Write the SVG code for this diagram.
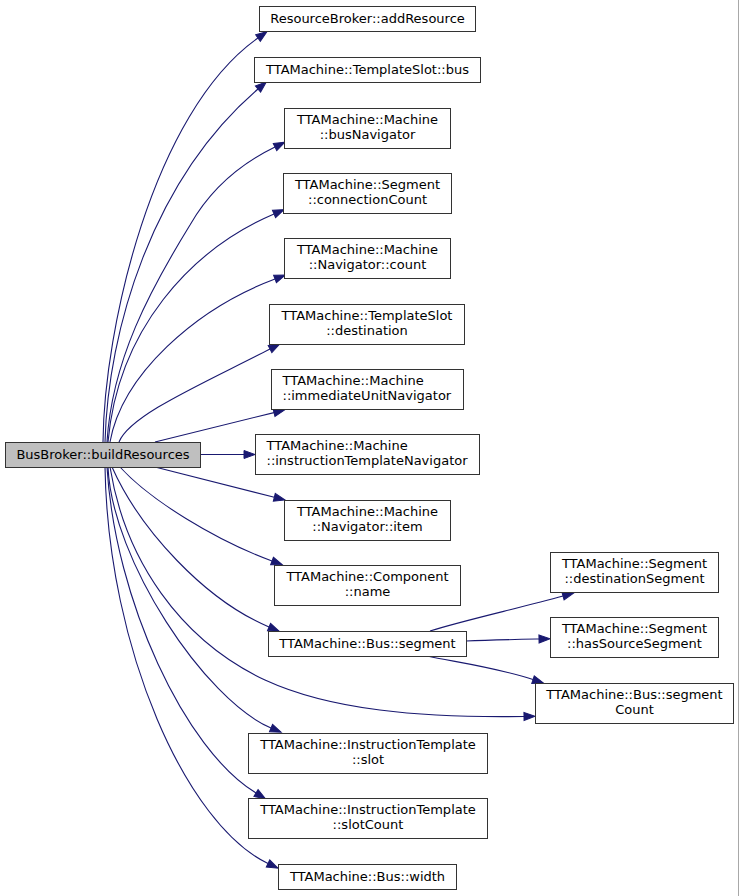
<svg xmlns="http://www.w3.org/2000/svg" width="739" height="896" viewBox="0 0 739 896">
<style>
.n rect{fill:#fff;stroke:#333;stroke-width:1}
.n.root rect{fill:#bfbfbf}
.n text{font-family:"DejaVu Sans",sans-serif;font-size:13px;fill:#000;text-anchor:middle}
.n text.l{text-anchor:start}
.e path{fill:none;stroke:#191970;stroke-width:1.1;marker-end:url(#ah)}
</style>
<defs>
<marker id="ah" markerUnits="userSpaceOnUse" viewBox="0 -5 12 10" refX="0" refY="0" markerWidth="12" markerHeight="10" orient="auto" overflow="visible">
<path d="M0,-4 L11,0 L0,4 z" fill="#191970" stroke="#191970" stroke-width="1"/>
</marker>
</defs>
<rect x="0" y="0" width="739" height="896" fill="#fff"/>
<line x1="738.5" y1="0" x2="738.5" y2="896" stroke="#a8a8a8" stroke-width="1"/>
<g id="edges" class="e">
<path d="M103,442 C104,330 152,113 258,38"/>
<path d="M105,442 C108,330 152,180 258,89"/>
<path d="M107,442 C112,360 150,290 190,225 C210,190 240,164 275,147"/>
<path d="M108,442 C118,330 190,250 274,214"/>
<path d="M110,442 C122,375 195,309 275,279"/>
<path d="M119,442 C130,415 200,385 270,349"/>
<path d="M155,442 L274,412.6"/>
<path d="M200,454.5 L244,454.5"/>
<path d="M155,467 L274.3,497.3"/>
<path d="M120,467 C150,500 215,540 272,561"/>
<path d="M112,467 C140,530 205,600 269,627"/>
<path d="M110,467 C125,560 180,640 265,680 C330,710 420,718 524,716.5"/>
<path d="M108,467 C112,560 205,700 271,728"/>
<path d="M107,467 C115,600 185,750 256,793"/>
<path d="M105,467 C108,650 187,825 268,863.5"/>
<path d="M430,631 C465,620 520,608 563,596"/>
<path d="M466,641 C490,640 515,639.5 539,639"/>
<path d="M427,656 C455,662 495,667 533,679.6"/>
</g>
<g id="n_addResource" class="n"><rect x="259.5" y="6.5" width="216" height="25"/><text x="367.5" y="23">ResourceBroker::addResource</text></g>
<g id="n_slotBus" class="n"><rect x="254.5" y="57.5" width="226" height="25"/><text x="367.5" y="74">TTAMachine::TemplateSlot::bus</text></g>
<g id="n_busNavigator" class="n"><rect x="284.5" y="108.5" width="166" height="40"/><text x="367.5" y="124">TTAMachine::Machine</text><text x="367.5" y="139">::busNavigator</text></g>
<g id="n_connectionCount" class="n"><rect x="283.5" y="173.5" width="168" height="40"/><text x="367.5" y="189">TTAMachine::Segment</text><text x="367.5" y="204">::connectionCount</text></g>
<g id="n_count" class="n"><rect x="284.5" y="238.5" width="166" height="40"/><text x="367.5" y="254">TTAMachine::Machine</text><text x="367.5" y="269">::Navigator::count</text></g>
<g id="n_destination" class="n"><rect x="269.5" y="304.5" width="195" height="40"/><text x="367" y="320">TTAMachine::TemplateSlot</text><text x="367" y="335">::destination</text></g>
<g id="n_immediateUnitNavigator" class="n"><rect x="271.5" y="369.5" width="192" height="40"/><text class="l" x="282.5" y="385">TTAMachine::Machine</text><text class="l" x="282.5" y="400">::immediateUnitNavigator</text></g>
<g id="n_instructionTemplateNavigator" class="n"><rect x="255.5" y="434.5" width="224" height="40"/><text class="l" x="266.5" y="450">TTAMachine::Machine</text><text class="l" x="266.5" y="465">::instructionTemplateNavigator</text></g>
<g id="n_buildResources" class="n root"><rect x="5.5" y="442.5" width="195" height="25"/><text x="103" y="459">BusBroker::buildResources</text></g>
<g id="n_item" class="n"><rect x="284.5" y="500.5" width="166" height="40"/><text x="367.5" y="516">TTAMachine::Machine</text><text x="367.5" y="531">::Navigator::item</text></g>
<g id="n_name" class="n"><rect x="274.5" y="565.5" width="186" height="40"/><text x="367.5" y="581">TTAMachine::Component</text><text x="367.5" y="596">::name</text></g>
<g id="n_segment" class="n"><rect x="268.5" y="631.5" width="198" height="25"/><text x="367.5" y="648">TTAMachine::Bus::segment</text></g>
<g id="n_slot" class="n"><rect x="248.5" y="733.5" width="239" height="40"/><text x="368" y="749">TTAMachine::InstructionTemplate</text><text x="368" y="764">::slot</text></g>
<g id="n_slotCount" class="n"><rect x="248.5" y="798.5" width="239" height="40"/><text x="368" y="814">TTAMachine::InstructionTemplate</text><text x="368" y="829">::slotCount</text></g>
<g id="n_width" class="n"><rect x="278.5" y="864.5" width="178" height="25"/><text x="367.5" y="881">TTAMachine::Bus::width</text></g>
<g id="n_destinationSegment" class="n"><rect x="550.5" y="552.5" width="168" height="40"/><text x="634.5" y="568">TTAMachine::Segment</text><text x="634.5" y="583">::destinationSegment</text></g>
<g id="n_hasSourceSegment" class="n"><rect x="550.5" y="617.5" width="168" height="40"/><text x="634.5" y="633">TTAMachine::Segment</text><text x="634.5" y="648">::hasSourceSegment</text></g>
<g id="n_segmentCount" class="n"><rect x="535.5" y="683.5" width="198" height="40"/><text x="634.5" y="699">TTAMachine::Bus::segment</text><text x="634.5" y="714">Count</text></g>
</svg>
